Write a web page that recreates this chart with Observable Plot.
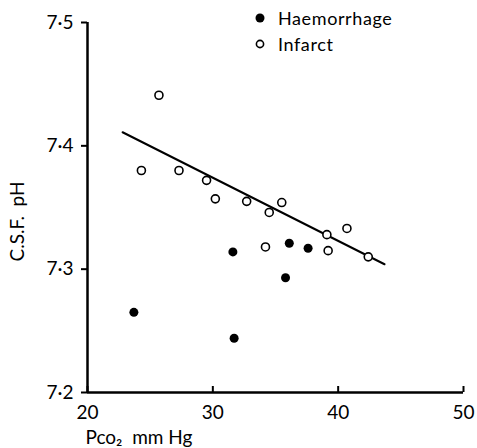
<!DOCTYPE html>
<html>
<head>
<meta charset="utf-8">
<script src="https://cdn.jsdelivr.net/npm/d3@7"></script>
<script src="https://cdn.jsdelivr.net/npm/@observablehq/plot@0.6"></script>
<style>
  body { margin: 0; background: #fff; }
  #wrap { position: relative; width: 477px; height: 448px; font-family: Lato, "DejaVu Sans", sans-serif; }
  #legend { position: absolute; left: 254px; top: 5px; font-size: 18px; line-height: 26px; color: #000; letter-spacing: 0.6px; }
  #legend div { display: flex; align-items: center; }
  #legend svg { margin-right: 12px; }
</style>
</head>
<body>
<div id="wrap"><div id="legend"></div></div>
<script>
// Data
const haemX = [23.7, 31.6, 31.7, 35.8, 36.1, 37.6];
const haemY = [7.265, 7.314, 7.244, 7.293, 7.321, 7.317];
const infX = [25.7, 24.3, 27.3, 29.5, 30.2, 32.7, 34.5, 35.5, 34.2, 39.1, 40.7, 39.2, 42.4];
const infY = [7.441, 7.380, 7.380, 7.372, 7.357, 7.355, 7.346, 7.354, 7.318, 7.328, 7.333, 7.315, 7.310];
const lineX = [22.8, 43.7];
const lineY = [7.411, 7.304];
const xTicks = [20, 30, 40, 50];
const yTicks = [7.2, 7.3, 7.4, 7.5];
const legendLabels = ["Haemorrhage", "Infarct"];
const xLabel = "Pco₂  mm Hg";
const yLabel = "C.S.F.  pH";

const haem = haemX.map((x, i) => ({x, y: haemY[i]}));
const inf = infX.map((x, i) => ({x, y: infY[i]}));
const fit = lineX.map((x, i) => ({x, y: lineY[i]}));

const chart = Plot.plot({
  width: 477,
  height: 448,
  marginLeft: 87,
  marginRight: 14,
  marginTop: 22,
  marginBottom: 56,
  style: {fontFamily: "Lato, 'DejaVu Sans', sans-serif", fontSize: "19px", color: "#000", background: "#fff"},
  x: {domain: [20, 50]},
  y: {domain: [7.2, 7.5]},
  marks: [
    Plot.axisX(xTicks, {tickSize: -6, tickPadding: 19, strokeWidth: 2, fontSize: 19, label: null}),
    Plot.axisY(yTicks, {tickSize: 6, tickPadding: 8, strokeWidth: 2, fontSize: 19,
      tickFormat: d => d3.format(".1f")(d).replace(".", "·"), label: null}),
    Plot.text([xLabel], {text: d => d, frameAnchor: "bottom-left", textAnchor: "start",
      lineAnchor: "bottom", dx: -2, dy: 51, fontSize: 19}),
    Plot.text([yLabel], {text: d => d, frameAnchor: "left", rotate: -90,
      dx: -70, dy: 54, fontSize: 19}),
    Plot.ruleX([20], {strokeWidth: 2.5}),
    Plot.ruleY([7.2], {strokeWidth: 2.5}),
    Plot.line(fit, {x: "x", y: "y", strokeWidth: 2}),
    Plot.dot(inf, {x: "x", y: "y", r: 4, stroke: "#000", strokeWidth: 1.6, fill: "#fff"}),
    Plot.dot(haem, {x: "x", y: "y", r: 4.5, fill: "#000", stroke: "none"})
  ]
});
document.getElementById("wrap").prepend(chart);

const legend = document.getElementById("legend");
legendLabels.forEach((label, i) => {
  const row = document.createElement("div");
  const filled = i === 0;
  row.innerHTML = `<svg width="12" height="12"><circle cx="6" cy="6" r="${filled ? 4.5 : 3.6}" fill="${filled ? "#000" : "#fff"}" stroke="#000" stroke-width="${filled ? 0 : 1.6}"/></svg><span>${label}</span>`;
  legend.appendChild(row);
});
</script>
</body>
</html>
